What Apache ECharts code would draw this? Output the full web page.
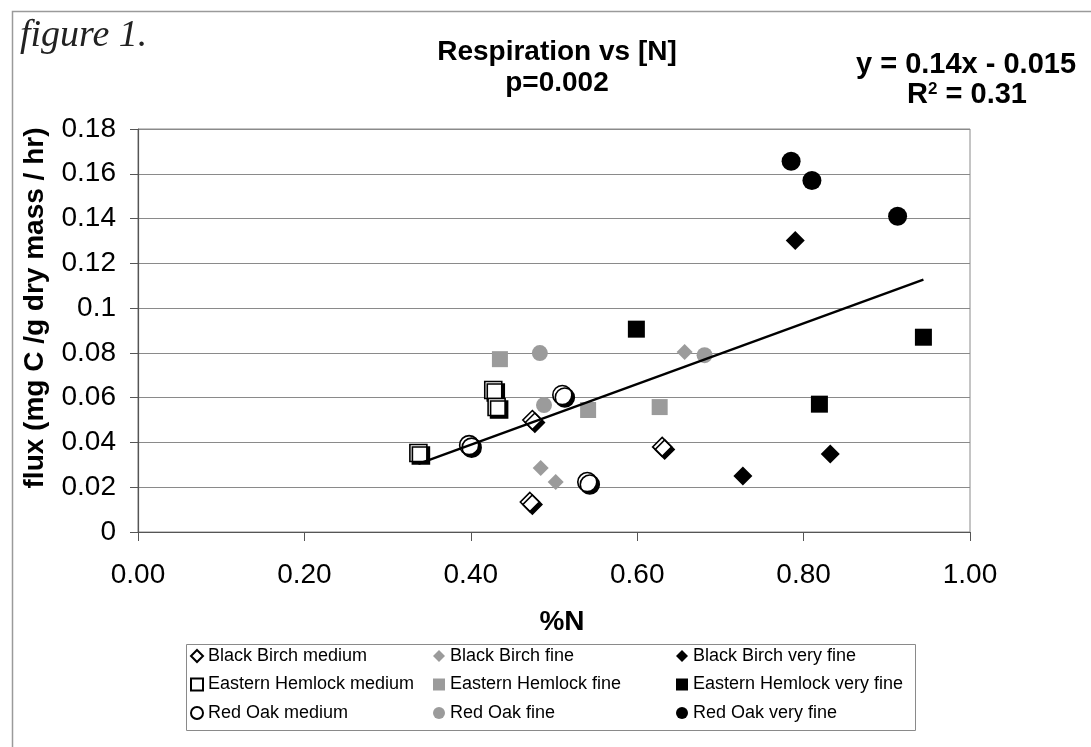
<!DOCTYPE html>
<html>
<head>
<meta charset="utf-8">
<title>Respiration vs [N]</title>
<script src="https://cdn.jsdelivr.net/npm/echarts@6/dist/echarts.min.js"></script>
<style>
  html, body { margin: 0; padding: 0; background: #ffffff; }
  #chart { width: 1091px; height: 747px; }
</style>
</head>
<body>
<div id="chart"></div>
<script>
// Root respiration flux against tissue nitrogen, by species and root size class.
// Each point is [%N, flux (mg C /g dry mass / hr)].
const blackBirchMedium      = [[0.471, 0.0134], [0.474, 0.0500], [0.630, 0.0380]];
const blackBirchFine        = [[0.484, 0.0286], [0.502, 0.0223], [0.657, 0.0804]];
const blackBirchVeryFine    = [[0.790, 0.1302], [0.727, 0.0250], [0.832, 0.0348]];
const hemlockMedium         = [[0.337, 0.0353], [0.427, 0.0634], [0.431, 0.0558]];
const hemlockFine           = [[0.435, 0.0772], [0.541, 0.0545], [0.627, 0.0558]];
const hemlockVeryFine       = [[0.599, 0.0906], [0.944, 0.0870], [0.819, 0.0571]];
const redOakMedium          = [[0.398, 0.0388], [0.510, 0.0612], [0.540, 0.0223]];
const redOakFine            = [[0.483, 0.0799], [0.488, 0.0567], [0.681, 0.0790]];
const redOakVeryFine        = [[0.785, 0.1656], [0.810, 0.1570], [0.913, 0.1410]];

// Linear fit over all points
const TREND_SLOPE = 0.1356;
const TREND_INTERCEPT = -0.0153;
const TREND_R2 = 0.31;
const P_VALUE = '0.002';

// Axis ticks
const xTicks = { min: 0, max: 1, interval: 0.2 };
const yTicks = { min: 0, max: 0.18, interval: 0.02 };

// Legend columns (one per size class)
const legendMedium   = ['Black Birch medium', 'Eastern Hemlock medium', 'Red Oak medium'];
const legendFine     = ['Black Birch fine', 'Eastern Hemlock fine', 'Red Oak fine'];
const legendVeryFine = ['Black Birch very fine', 'Eastern Hemlock very fine', 'Red Oak very fine'];

const FONT = "'Liberation Sans', Arial, Helvetica, sans-serif";
const GRAY = '#9b9b9b';

const openStyle = {
  color: '#ffffff', borderColor: '#000000', borderWidth: 1.6, opacity: 1,
  shadowColor: '#000000', shadowBlur: 0, shadowOffsetX: 2.5, shadowOffsetY: 2.5
};
const fineStyle = { color: GRAY, opacity: 1 };
const veryFineStyle = { color: '#000000', opacity: 1 };

function scatter(name, data, symbol, size, itemStyle) {
  return {
    type: 'scatter', name, data, symbol, symbolSize: size,
    itemStyle, z: 2, silent: true
  };
}

const allPoints = [].concat(
  blackBirchMedium, blackBirchFine, blackBirchVeryFine,
  hemlockMedium, hemlockFine, hemlockVeryFine,
  redOakMedium, redOakFine, redOakVeryFine
);
const xs = allPoints.map(p => p[0]);
const xLo = Math.min(...xs), xHi = Math.max(...xs);
const trendData = [
  [xLo, TREND_SLOPE * xLo + TREND_INTERCEPT],
  [xHi, TREND_SLOPE * xHi + TREND_INTERCEPT]
];

const equationText = 'y = ' + TREND_SLOPE.toFixed(2) + 'x ' +
  (TREND_INTERCEPT < 0 ? '- ' : '+ ') + Math.abs(TREND_INTERCEPT).toFixed(3);

function legendColumn(left, names) {
  return {
    orient: 'vertical', left, top: 646, padding: 0,
    itemWidth: 12, itemHeight: 12, itemGap: 8.5,
    selectedMode: false,
    data: names,
    textStyle: { fontFamily: FONT, fontSize: 18, color: '#000', lineHeight: 20 },
    itemStyle: { shadowColor: 'rgba(0,0,0,0)', shadowOffsetX: 0, shadowOffsetY: 0, shadowBlur: 0 }
  };
}

const chart = echarts.init(document.getElementById('chart'), null, { renderer: 'canvas' });

chart.setOption({
  animation: false,
  backgroundColor: '#ffffff',
  grid: { left: 138, right: 121, top: 129, bottom: 215, containLabel: false,
          show: true, borderColor: '#8a8a8a', borderWidth: 1 },
  xAxis: {
    type: 'value', min: xTicks.min, max: xTicks.max, interval: xTicks.interval,
    axisLine: { show: true, onZero: false, lineStyle: { color: '#555', width: 1.2 } },
    axisTick: { show: true, inside: false, length: 9, lineStyle: { color: '#555' } },
    splitLine: { show: false },
    axisLabel: { margin: 29, fontFamily: FONT, fontSize: 28, color: '#000',
                 formatter: v => v.toFixed(2) }
  },
  yAxis: {
    type: 'value', min: yTicks.min, max: yTicks.max, interval: yTicks.interval,
    axisLine: { show: true, lineStyle: { color: '#555', width: 1.2 } },
    axisTick: { show: true, inside: false, length: 8, lineStyle: { color: '#555' } },
    splitLine: { show: true, lineStyle: { color: '#8a8a8a', width: 1 } },
    axisLabel: { margin: 22, fontFamily: FONT, fontSize: 28, color: '#000',
                 formatter: v => String(+v.toFixed(2)) }
  },
  legend: [
    legendColumn(190, legendMedium),
    legendColumn(433, legendFine),
    legendColumn(676, legendVeryFine)
  ],
  graphic: [
    { type: 'rect', left: 10, top: 9, z: -10, silent: true,
      shape: { width: 1200, height: 900 },
      style: { fill: 'none', stroke: '#9a9a9a', lineWidth: 1.5 } },
    { type: 'rect', left: 184, top: 642, silent: true,
      shape: { width: 729, height: 86 },
      style: { fill: 'none', stroke: '#8a8a8a', lineWidth: 1 } },
    { type: 'text', left: 20, top: 17, silent: true,
      style: { text: 'figure 1.', fontFamily: "'Liberation Serif', 'Times New Roman', serif",
               fontStyle: 'italic', fontSize: 38, fill: '#222' } },
    { type: 'text', x: 557, y: 52, silent: true,
      style: { text: 'Respiration vs [N]', fontFamily: FONT, fontWeight: 'bold', fontSize: 28,
               fill: '#000', align: 'center', verticalAlign: 'middle' } },
    { type: 'text', x: 557, y: 83, silent: true,
      style: { text: 'p=' + P_VALUE, fontFamily: FONT, fontWeight: 'bold', fontSize: 28,
               fill: '#000', align: 'center', verticalAlign: 'middle' } },
    { type: 'text', x: 966, y: 65, silent: true,
      style: { text: equationText, fontFamily: FONT, fontWeight: 'bold', fontSize: 29,
               fill: '#000', align: 'center', verticalAlign: 'middle' } },
    { type: 'text', x: 967, y: 95, silent: true,
      style: { text: 'R{sup|2} = ' + TREND_R2.toFixed(2), fontFamily: FONT, fontWeight: 'bold',
               fontSize: 29, fill: '#000', align: 'center', verticalAlign: 'middle',
               rich: { sup: { fontFamily: FONT, fontWeight: 'bold', fontSize: 17,
                              verticalAlign: 'top', fill: '#000' } } } },
    { type: 'text', x: 35, y: 308, rotation: Math.PI / 2, silent: true,
      style: { text: 'flux (mg C /g dry mass / hr)', fontFamily: FONT, fontWeight: 'bold',
               fontSize: 28, fill: '#000', align: 'center', verticalAlign: 'middle' } },
    { type: 'text', x: 562, y: 622, silent: true,
      style: { text: '%N', fontFamily: FONT, fontWeight: 'bold', fontSize: 28,
               fill: '#000', align: 'center', verticalAlign: 'middle' } }
  ],
  series: [
    scatter('Black Birch medium', blackBirchMedium, 'diamond', 19, openStyle),
    scatter('Eastern Hemlock medium', hemlockMedium, 'rect', 17, openStyle),
    scatter('Red Oak medium', redOakMedium, 'circle', 19, openStyle),
    scatter('Black Birch fine', blackBirchFine, 'diamond', 16, fineStyle),
    scatter('Eastern Hemlock fine', hemlockFine, 'rect', 16, fineStyle),
    scatter('Red Oak fine', redOakFine, 'circle', 16, fineStyle),
    scatter('Black Birch very fine', blackBirchVeryFine, 'diamond', 19, veryFineStyle),
    scatter('Eastern Hemlock very fine', hemlockVeryFine, 'rect', 17, veryFineStyle),
    scatter('Red Oak very fine', redOakVeryFine, 'circle', 19, veryFineStyle),
    {
      type: 'line', name: 'trend', data: trendData, showSymbol: false, symbol: 'none',
      lineStyle: { color: '#000', width: 2.4 }, z: 3, silent: true
    }
  ]
});
</script>
</body>
</html>
